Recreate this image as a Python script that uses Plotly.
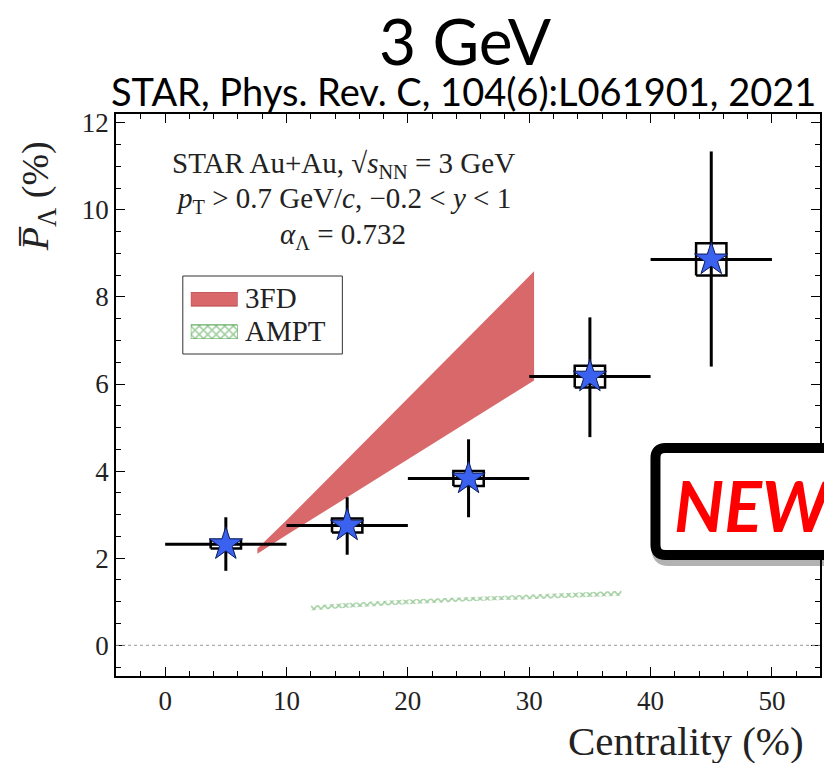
import plotly.graph_objects as go

# ---------------- data ----------------
centrality = [5, 15, 25, 35, 45]
cent_halfwidth = [5, 5, 5, 5, 5]
polarization = [2.32, 2.75, 3.83, 6.17, 8.86]
stat_up = [0.62, 0.65, 0.90, 1.36, 2.48]
stat_down = [0.61, 0.67, 0.89, 1.39, 2.46]
sys_err = [0.10, 0.16, 0.17, 0.25, 0.37]

fd3_x = [7.6, 10, 15, 20, 25, 30.4]
fd3_low = [2.10, 2.53, 3.40, 4.27, 5.14, 6.08]
fd3_high = [2.22, 2.87, 4.27, 5.67, 7.07, 8.59]

ampt_x = [12, 15, 20, 25, 30, 35, 37.6]
ampt_low = [0.80, 0.86, 0.94, 1.01, 1.06, 1.11, 1.14]
ampt_high = [0.91, 0.97, 1.05, 1.12, 1.17, 1.22, 1.25]

x_ticks = [0, 10, 20, 30, 40, 50]
y_ticks = [0, 2, 4, 6, 8, 10, 12]
legend_labels = ["3FD", "AMPT"]

# ---------------- style ----------------
BOX_HW = 1.25
SERIF = "Liberation Serif"
RED = "#d9686a"
GREEN = "#3f9c3f"
L, R, T, B = 116, 2, 114, 87
W, H = 824, 763
PW, PH = W - L - R, H - T - B


def px2paper(px, py):
    return (px - L) / PW, (H - B - py) / PH


fig = go.Figure()

# 3FD band
fig.add_trace(go.Scatter(
    x=fd3_x + fd3_x[::-1], y=fd3_low + fd3_high[::-1],
    fill="toself", mode="lines", line=dict(width=0, color=RED),
    fillcolor=RED, name=legend_labels[0], hoverinfo="skip", showlegend=False))

# AMPT band
fig.add_trace(go.Scatter(
    x=ampt_x + ampt_x[::-1], y=ampt_low + ampt_high[::-1],
    fill="toself", mode="lines", line=dict(width=0, color=GREEN),
    fillcolor="rgba(0,0,0,0)",
    fillpattern=dict(shape="x", fgcolor=GREEN, bgcolor="rgba(0,0,0,0)", size=5, solidity=0.5),
    name=legend_labels[1], hoverinfo="skip", showlegend=False))

# systematic boxes
bx, by = [], []
for c, p, s in zip(centrality, polarization, sys_err):
    bx += [c - BOX_HW, c + BOX_HW, c + BOX_HW, c - BOX_HW, c - BOX_HW, None]
    by += [p - s, p - s, p + s, p + s, p - s, None]
fig.add_trace(go.Scatter(x=bx, y=by, mode="lines", line=dict(color="black", width=2.5),
                         showlegend=False, hoverinfo="skip"))

# data points
fig.add_trace(go.Scatter(
    x=centrality, y=polarization, mode="markers",
    marker=dict(symbol="star", size=25, color="#3a62ee", line=dict(color="#0d1a5a", width=1)),
    error_x=dict(type="data", array=cent_halfwidth, color="black", thickness=3, width=0),
    error_y=dict(type="data", array=stat_up, arrayminus=stat_down, color="black", thickness=3, width=0),
    showlegend=False))

# ---- manual legend (swatches on a small auxiliary axis) ----
lx0, ly0 = px2paper(191, 339)
lx1, ly1 = px2paper(238, 292)
fig.add_trace(go.Scatter(x=[0, 1, 1, 0, 0], y=[0.70, 0.70, 1, 1, 0.70], xaxis="x2", yaxis="y2",
                         fill="toself", mode="lines", fillcolor=RED,
                         line=dict(color="#b84c4e", width=1), showlegend=False, hoverinfo="skip"))
fig.add_trace(go.Scatter(x=[0, 1, 1, 0, 0], y=[0, 0, 0.30, 0.30, 0], xaxis="x2", yaxis="y2",
                         fill="toself", mode="lines", fillcolor="rgba(0,0,0,0)",
                         fillpattern=dict(shape="x", fgcolor=GREEN, bgcolor="white", size=6, solidity=0.45),
                         line=dict(color=GREEN, width=1), showlegend=False, hoverinfo="skip"))
bx0, by0 = px2paper(183, 354)
bx1, by1 = px2paper(343, 276)
fig.add_shape(type="rect", xref="paper", yref="paper", x0=bx0, y0=by0, x1=bx1, y1=by1,
              line=dict(color="#333", width=1), fillcolor="white", layer="below")

# zero reference line
fig.add_shape(type="line", xref="paper", x0=0, x1=1, yref="y", y0=0, y1=0,
              line=dict(color="#999999", width=1, dash="dot"))

axis_common = dict(showline=True, linecolor="black", linewidth=1.5, mirror="ticks",
                   ticks="inside", ticklen=9, tickwidth=1.2, tickcolor="black",
                   showgrid=False, zeroline=False, ticklabelstandoff=0,
                   tickfont=dict(family=SERIF, size=27, color="#222"))

xaxis = dict(range=[-4.05, 53.96], tickvals=x_ticks,
             minor=dict(dtick=2, ticks="inside", ticklen=5, tickwidth=1.2, tickcolor="black", showgrid=False),
             **axis_common)
yaxis = dict(range=[-0.705, 12.2], tickvals=y_ticks,
             minor=dict(dtick=0.5, ticks="inside", ticklen=5, tickwidth=1.2, tickcolor="black", showgrid=False),
             **axis_common)

ann = []
# titles
tx, ty = px2paper(466, 40)
ann.append(dict(text="3 GeV", xref="paper", yref="paper", x=tx, y=ty,
                showarrow=False, font=dict(family="Lato", size=64, color="black"),
                xanchor="center", yanchor="middle"))
tx, ty = px2paper(464, 91)
ann.append(dict(text="STAR, Phys. Rev. C, 104(6):L061901, 2021", xref="paper", yref="paper",
                x=tx, y=ty, showarrow=False,
                font=dict(family="Lato", size=38, color="black"), xanchor="center", yanchor="middle"))
# in-plot text
lines = ["STAR Au+Au, √<i>s</i><sub>NN</sub> = 3 GeV",
         "<i>p</i><sub>T</sub> > 0.7 GeV/<i>c</i>, −0.2 < <i>y</i> < 1",
         "<i>α</i><sub>Λ</sub> = 0.732"]
for t, yy in zip(lines, [165, 200, 236]):
    tx, ty = px2paper(344, yy)
    ann.append(dict(text=t, xref="paper", yref="paper", x=tx, y=ty,
                    showarrow=False, font=dict(family=SERIF, size=29, color="#222"),
                    xanchor="center", yanchor="middle"))
# legend labels
for lab, yy in zip(legend_labels, [298, 331]):
    tx, ty = px2paper(243, yy)
    ann.append(dict(text=lab, xref="paper", yref="paper", x=tx, y=ty, showarrow=False,
                    font=dict(family=SERIF, size=29, color="#222"), xanchor="left", yanchor="middle"))
# axis titles
tx, ty = px2paper(38, 196)
ann.append(dict(text="<i>P\u0305</i><sub>Λ</sub> (%)", xref="paper", yref="paper",
                x=tx, y=ty, textangle=-90, showarrow=False,
                font=dict(family=SERIF, size=38, color="#222"), xanchor="center", yanchor="middle"))
tx, ty = px2paper(808, 741)
ann.append(dict(text="Centrality (%)", xref="paper", yref="paper",
                x=tx, y=ty, showarrow=False,
                font=dict(family=SERIF, size=41, color="#222"), xanchor="right", yanchor="middle"))
# NEW badge text
tx, ty = px2paper(674, 505)
ann.append(dict(text="<b><i>NEW</i></b>", xref="paper", yref="paper",
                x=tx, y=ty, showarrow=False,
                font=dict(family="Lato", size=70, color="#ff0000"), xanchor="left", yanchor="middle"))

# NEW badge box (rounded)
x0, y0 = px2paper(657, 448)
x1, y1 = px2paper(880, 555)
rx, ry = 10 / PW, 10 / PH
path = (f"M {x0 + rx},{y0} L {x1 - rx},{y0} Q {x1},{y0} {x1},{y0 - ry} "
        f"L {x1},{y1 + ry} Q {x1},{y1} {x1 - rx},{y1} L {x0 + rx},{y1} Q {x0},{y1} {x0},{y1 + ry} "
        f"L {x0},{y0 - ry} Q {x0},{y0} {x0 + rx},{y0} Z")
sx, sy = 3 / PW, 4 / PH
fig.add_shape(type="path", xref="paper", yref="paper",
              path=(f"M {x0 + rx + sx},{y0 - sy} L {x1},{y0 - sy} L {x1},{y1 - sy} "
                    f"L {x0 + rx + sx},{y1 - sy} Q {x0 + sx},{y1 - sy} {x0 + sx},{y1 + ry - sy} "
                    f"L {x0 + sx},{y0 - ry - sy} Q {x0 + sx},{y0 - sy} {x0 + rx + sx},{y0 - sy} Z"),
              line=dict(color="rgba(0,0,0,0.3)", width=14), fillcolor="rgba(0,0,0,0)", layer="above")
fig.add_shape(type="path", xref="paper", yref="paper", path=path,
              line=dict(color="black", width=10), fillcolor="white", layer="above")

fig.update_layout(
    width=W, height=H,
    margin=dict(l=L, r=R, t=T, b=B),
    plot_bgcolor="white", paper_bgcolor="white",
    annotations=ann,
    showlegend=False,
    xaxis=xaxis, yaxis=yaxis,
    xaxis2=dict(domain=[lx0, lx1], range=[0, 1], visible=False, anchor="y2", fixedrange=True),
    yaxis2=dict(domain=[ly0, ly1], range=[0, 1], visible=False, anchor="x2", fixedrange=True),
)

fig.write_html("out.html")
